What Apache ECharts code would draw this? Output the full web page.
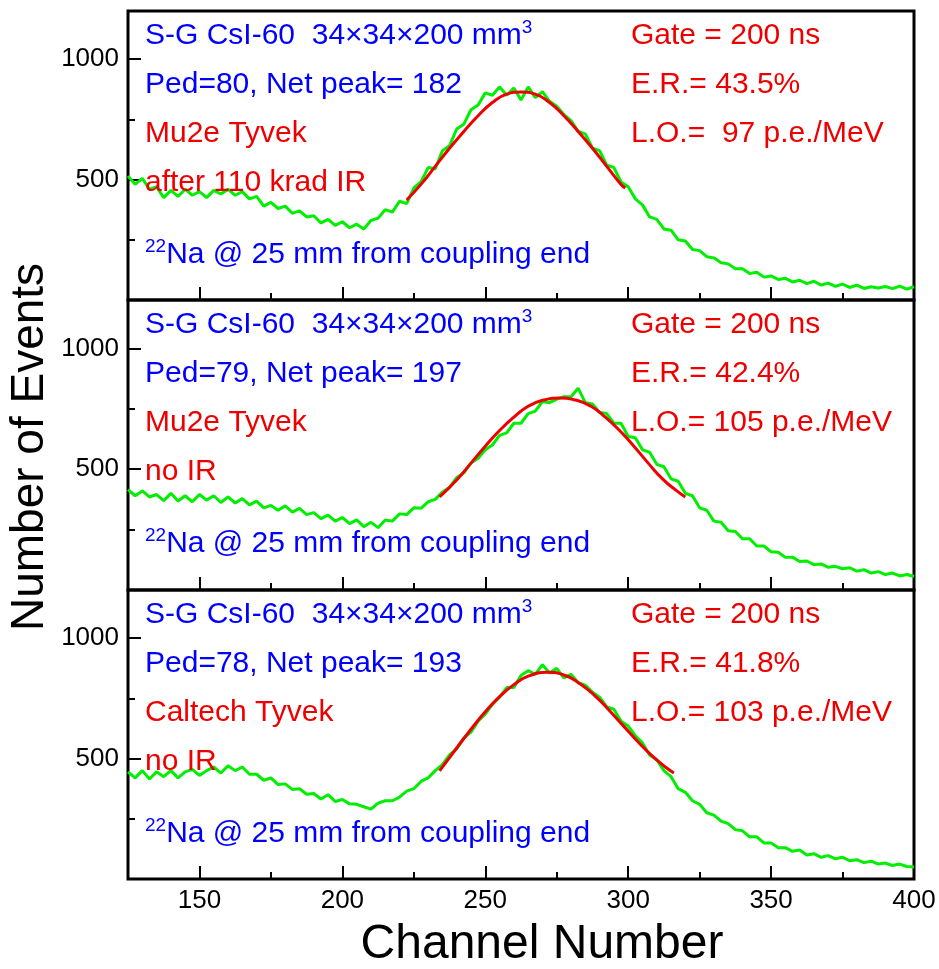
<!DOCTYPE html>
<html><head><meta charset="utf-8">
<script src="https://cdn.jsdelivr.net/npm/echarts@6/dist/echarts.min.js"></script>
<style>html,body{margin:0;padding:0;background:#fff}#c{width:939px;height:969px}</style>
</head><body><div id="c"></div>
<script>
// ---- data ----
const channelStart = 125, channelStep = 2.5;
const spectrum1 = [
 515,480,505,460,470,425,455,430,460,435,
 450,425,455,440,460,435,450,420,430,390,
 405,380,390,360,370,345,350,320,335,310,
 325,300,315,295,330,340,375,365,410,400,
 465,490,550,545,620,640,710,730,790,810,
 860,850,885,850,880,830,885,840,865,825,
 805,770,745,700,690,630,620,560,550,490,
 470,420,395,345,335,295,290,250,245,210,
 205,180,175,155,150,130,130,110,115,95,
 100,85,90,75,82,68,78,62,70,57,
 66,52,62,48,55,50,56,47,58,45,
 55];
const spectrum2 = [
 415,390,410,385,395,370,400,368,390,365,
 395,372,390,362,385,360,378,352,368,340,
 350,330,348,322,338,312,320,295,310,285,
 300,275,290,262,280,258,290,285,315,312,
 340,338,365,375,405,425,465,485,525,545,
 580,600,640,650,690,690,730,740,780,775,
 790,800,800,835,775,770,735,730,690,690,
 635,630,580,570,520,510,460,450,400,390,
 340,330,285,280,245,242,212,212,182,182,
 158,156,135,136,118,120,105,108,94,98,
 88,92,78,84,70,76,64,70,58,64,
 56];
const spectrum3 = [
 445,420,450,415,445,425,450,420,445,455,
 430,450,465,440,470,450,465,435,435,410,
 420,392,395,372,375,352,355,332,350,322,
 330,312,310,300,290,315,325,325,340,365,
 375,405,420,450,475,515,540,585,610,655,
 685,725,755,795,795,845,865,850,890,855,
 875,835,850,815,805,775,755,715,705,655,
 635,595,565,515,495,450,425,375,360,325,
 310,275,265,240,230,205,200,175,175,150,
 150,130,130,115,120,100,105,90,97,84,
 90,76,80,68,74,62,66,56,62,52,
 50];
const fit1X = [222.5,227.5,232.5,237.5,242.5,247.5,252.5,257.5,262.5,267.5,272.5,277.5,282.5,287.5,292.5,297.5,299];
const fit1Y = [415,480,555,630,700,765,820,855,864,855,820,765,700,630,555,480,465];
const fit2X = [234,240,245,250,255,260,265,270,276,282,287,292,297,302,307,312,317,320];
const fit2Y = [385,455,525,595,660,715,760,785,794,785,760,715,660,595,525,460,410,385];
const fit3X = [234,240,245,250,255,260,265,271.5,278,283,288,293,298,303,308,313,316];
const fit3Y = [449,544,622,694,757,807,842,858,845,812,765,705,640,575,515,465,440];

const xMajorTicks = [150,200,250,300,350,400];
const xMinorTicks = [175,225,275,325,375];
const yMajorTicks = [500,1000];
const yMinorTicks = [250,750];

const leftNotes = [
 ['S-G CsI-60  34×34×200 mm{s|3}','Ped=80, Net peak= 182','Mu2e Tyvek','after 110 krad IR','{s|22}Na @ 25 mm from coupling end'],
 ['S-G CsI-60  34×34×200 mm{s|3}','Ped=79, Net peak= 197','Mu2e Tyvek','no IR','{s|22}Na @ 25 mm from coupling end'],
 ['S-G CsI-60  34×34×200 mm{s|3}','Ped=78, Net peak= 193','Caltech Tyvek','no IR','{s|22}Na @ 25 mm from coupling end']
];
const leftNoteColors = ['blue','blue','red','red','blue'];
const rightNotes = [
 ['Gate = 200 ns','E.R.= 43.5%','L.O.=  97 p.e./MeV'],
 ['Gate = 200 ns','E.R.= 42.4%','L.O.= 105 p.e./MeV'],
 ['Gate = 200 ns','E.R.= 41.8%','L.O.= 103 p.e./MeV']
];
const xTitle = 'Channel Number';
const yTitle = 'Number of Events';

// ---- layout / style ----
const FONT = '"Liberation Sans", Arial, sans-serif';
const GREEN = '#00ee00', RED = '#ee0000', BLUE = '#0000ff';
const panels = [{top:11,height:289},{top:300,height:290},{top:590,height:289}];
const channels = spectrum1.map((_, i) => channelStart + i * channelStep);
const spectra = [spectrum1, spectrum2, spectrum3];
const fits = [[fit1X, fit1Y],[fit2X, fit2Y],[fit3X, fit3Y]];

const grid = [], xAxis = [], yAxis = [], series = [], graphic = [];
panels.forEach((p, i) => {
  grid.push({left:128, width:786, top:p.top, height:p.height, show:true, borderColor:'#000', borderWidth:3, backgroundColor:'transparent'});
  const xBase = {gridIndex:i, type:'value', min:125, max:400, position:'bottom', axisLine:{show:false}, splitLine:{show:false}};
  xAxis.push(Object.assign({}, xBase, {
    axisTick:{show:true, inside:true, length:13, customValues:xMajorTicks, lineStyle:{color:'#000', width:2}},
    axisLabel:{show:i===2, customValues:xMajorTicks, formatter:v => String(v), color:'#000', fontSize:26, fontFamily:FONT, margin:9}
  }));
  xAxis.push(Object.assign({}, xBase, {
    axisTick:{show:true, inside:true, length:7, customValues:xMinorTicks, lineStyle:{color:'#000', width:2}},
    axisLabel:{show:false}
  }));
  const yBase = {gridIndex:i, type:'value', min:0, max:1200, position:'left', axisLine:{show:false}, splitLine:{show:false}};
  yAxis.push(Object.assign({}, yBase, {
    axisTick:{show:true, inside:true, length:13, customValues:yMajorTicks, lineStyle:{color:'#000', width:2}},
    axisLabel:{show:true, customValues:yMajorTicks, formatter:v => String(v), color:'#000', fontSize:26, fontFamily:FONT, margin:9}
  }));
  yAxis.push(Object.assign({}, yBase, {
    axisTick:{show:true, inside:true, length:7, customValues:yMinorTicks, lineStyle:{color:'#000', width:2}},
    axisLabel:{show:false}
  }));
  series.push({type:'line', xAxisIndex:2*i, yAxisIndex:2*i, showSymbol:false, symbol:'none',
    data:channels.map((c, k) => [c, spectra[i][k]]), lineStyle:{color:GREEN, width:3}, z:2, animation:false});
  series.push({type:'line', xAxisIndex:2*i, yAxisIndex:2*i, showSymbol:false, symbol:'none', smooth:true,
    data:fits[i][0].map((c, k) => [c, fits[i][1][k]]), lineStyle:{color:RED, width:3}, z:3, animation:false});

  const offs = [25, 74, 123, 172, 244];
  leftNotes[i].forEach((t, j) => {
    const col = leftNoteColors[j] === 'blue' ? BLUE : RED;
    graphic.push({type:'text', x:145, y:p.top + offs[j], z:10, style:{
      text:t, fill:col, font:'30px ' + FONT, verticalAlign:'middle', align:'left',
      lineHeight:36,
      rich:{s:{fontSize:19, fontFamily:FONT, fill:col, verticalAlign:'top', lineHeight:19}}
    }});
  });
  rightNotes[i].forEach((t, j) => {
    graphic.push({type:'text', x:631, y:p.top + offs[j], z:10, style:{
      text:t, fill:RED, font:'30px ' + FONT, verticalAlign:'middle', align:'left'
    }});
  });
});
graphic.push({type:'text', x:542, y:945, style:{text:xTitle, fill:'#000', font:'48px ' + FONT, align:'center', verticalAlign:'middle'}});
graphic.push({type:'text', x:30, y:447, rotation:Math.PI/2, style:{text:yTitle, fill:'#000', font:'46px ' + FONT, align:'center', verticalAlign:'middle'}});

const chart = echarts.init(document.getElementById('c'), null, {renderer:'canvas'});
chart.setOption({animation:false, backgroundColor:'#fff', grid, xAxis, yAxis, series, graphic});
</script>
</body></html>
